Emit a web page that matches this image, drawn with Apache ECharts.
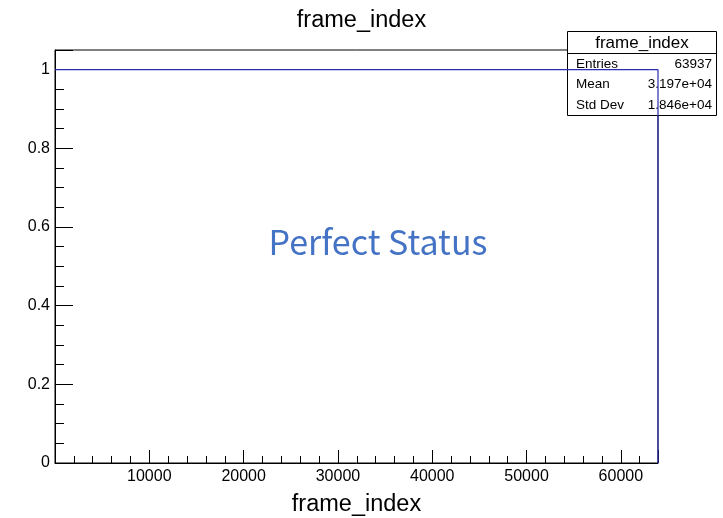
<!DOCTYPE html>
<html>
<head>
<meta charset="utf-8">
<script src="https://cdn.jsdelivr.net/npm/echarts@6/dist/echarts.min.js"></script>
<style>html,body{margin:0;padding:0;background:#fff;}#c{width:723px;height:518px;}</style>
</head>
<body>
<div id="c"></div>
<script>
const histName = "frame_index";
const binEdges = [0, 63937];
const binValues = [1];
const statLabels = ["Entries", "Mean", "Std Dev"];
const statValues = ["63937", "3.197e+04", "1.846e+04"];
const yTicks = [0, 0.2, 0.4, 0.6, 0.8, 1];
const annotation = "Perfect Status";

// build histogram step outline
const steps = [];
for (let i = 0; i < binValues.length; i++) {
  steps.push([binEdges[i], binValues[i]]);
  steps.push([binEdges[i + 1], binValues[i]]);
}
steps.push([binEdges[binEdges.length - 1], 0]);

const font = "'Liberation Sans', Arial, Helvetica, sans-serif";
const chart = echarts.init(document.getElementById('c'), null, {renderer: 'canvas'});
const statRows = statLabels.map((l, i) => ([
  {type: 'text', x: 576, y: 64 + i * 20.5, style: {text: l, font: '13.5px ' + font, fill: '#000', textVerticalAlign: 'middle'}},
  {type: 'text', x: 712, y: 64 + i * 20.5, style: {text: statValues[i], font: '13.5px ' + font, fill: '#000', textAlign: 'right', textVerticalAlign: 'middle'}}
])).flat();

chart.setOption({
  animation: false,
  backgroundColor: '#fff',
  grid: {left: 55, right: 65, top: 50, bottom: 55, containLabel: false, outerBoundsMode: 'none',
    show: true, borderColor: '#000', borderWidth: 1, backgroundColor: 'transparent'},
  title: [
    {text: histName, left: 'center', top: 4, textStyle: {fontFamily: font, fontSize: 23.5, fontWeight: 'normal', color: '#000'}},
  ],
  xAxis: {
    type: 'value', min: 0, max: binEdges[binEdges.length - 1], interval: 10000,
    name: histName, nameLocation: 'middle', nameGap: 30,
    nameTextStyle: {fontFamily: font, fontSize: 23.5, color: '#000'},
    axisLine: {show: true, onZero: false, lineStyle: {color: '#000', width: 1}},
    axisTick: {show: true, inside: true, length: 13, lineStyle: {color: '#000'}},
    minorTick: {show: true, splitNumber: 5, length: 7, lineStyle: {color: '#000'}},
    splitLine: {show: false},
    axisLabel: {fontFamily: font, fontSize: 16, color: '#000', margin: 6, showMaxLabel: false,
      formatter: v => (v === 0 || v % 10000 !== 0) ? '' : String(v)}
  },
  yAxis: {
    type: 'value', min: 0, max: 1.05, interval: 0.2,
    axisLine: {show: true, lineStyle: {color: '#000', width: 1}},
    axisTick: {show: true, inside: true, length: 18, lineStyle: {color: '#000'}},
    minorTick: {show: true, splitNumber: 4, length: 9, lineStyle: {color: '#000'}},
    splitLine: {show: false},
    axisLabel: {fontFamily: font, fontSize: 16, color: '#000', margin: 5, showMaxLabel: false,
      formatter: v => yTicks.some(t => Math.abs(t - v) < 1e-9) ? String(+v.toFixed(1)) : ''}
  },
  series: [{
    type: 'line', data: steps, symbol: 'none', silent: true,
    lineStyle: {color: '#2b2bb0', width: 1.2}, z: 1
  }],
  graphic: [
    {type: 'text', x: 378, y: 242, style: {text: annotation, font: '34px "Noto Sans CJK SC", "Noto Sans", sans-serif', fill: '#4472C4', textAlign: 'center', textVerticalAlign: 'middle'}, z: 10},
    {type: 'group', z: 20, children: [
      {type: 'rect', shape: {x: 567.5, y: 31.5, width: 149, height: 84}, style: {fill: '#fff', stroke: '#000', lineWidth: 1}},
      {type: 'line', shape: {x1: 567.5, y1: 53.5, x2: 716.5, y2: 53.5}, style: {stroke: '#000', lineWidth: 1}},
      {type: 'text', x: 642, y: 43, style: {text: histName, font: '17px ' + font, fill: '#000', textAlign: 'center', textVerticalAlign: 'middle'}},
      ...statRows
    ]}
  ]
});
</script>
</body>
</html>
